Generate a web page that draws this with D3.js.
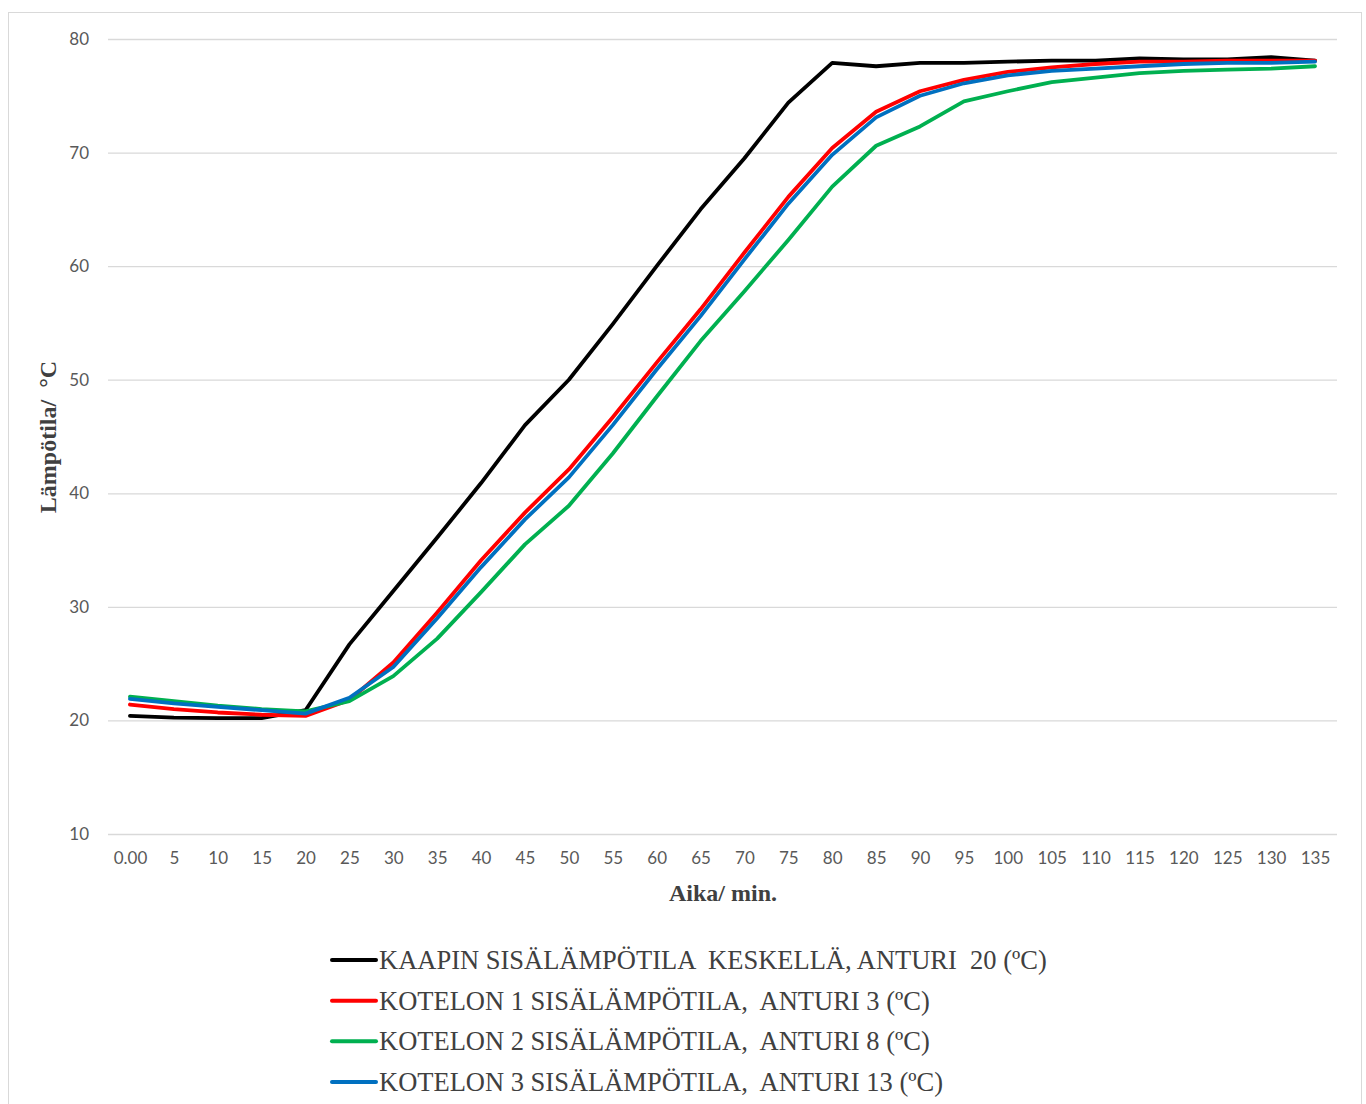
<!DOCTYPE html>
<html>
<head>
<meta charset="utf-8">
<script src="https://cdn.jsdelivr.net/npm/d3@7"></script>
<style>
  html, body { margin: 0; padding: 0; background: #fff; }
  svg { display: block; }
</style>
</head>
<body>
<svg id="chart" width="1366" height="1104"></svg>
<script>
// ---- data ----
const timeLabels = ["0.00","5","10","15","20","25","30","35","40","45","50","55","60","65","70","75","80","85","90","95","100","105","110","115","120","125","130","135"];
const yTicks = [10, 20, 30, 40, 50, 60, 70, 80];

const seriesNames = [
  "KAAPIN SISÄLÄMPÖTILA  KESKELLÄ, ANTURI  20 (ºC)",
  "KOTELON 1 SISÄLÄMPÖTILA,  ANTURI 3 (ºC)",
  "KOTELON 2 SISÄLÄMPÖTILA,  ANTURI 8 (ºC)",
  "KOTELON 3 SISÄLÄMPÖTILA,  ANTURI 13 (ºC)"
];
const seriesColors = ["#000000", "#ff0000", "#00b050", "#0070c0"];

const kaappi  = [20.4,20.25,20.2,20.2,20.9,26.7,31.4,36.1,40.9,46.0,50.0,54.9,60.0,65.0,69.5,74.4,77.9,77.6,77.9,77.9,78.0,78.1,78.1,78.3,78.2,78.2,78.4,78.1];
const kotelo1 = [21.4,21.0,20.7,20.5,20.4,21.8,25.1,29.5,34.1,38.3,42.1,46.7,51.5,56.2,61.2,66.1,70.4,73.6,75.4,76.4,77.1,77.5,77.8,78.0,78.0,78.1,78.1,78.1];
const kotelo2 = [22.1,21.7,21.3,21.0,20.8,21.7,23.9,27.2,31.3,35.5,38.9,43.5,48.5,53.4,57.8,62.3,67.0,70.6,72.3,74.5,75.4,76.2,76.6,77.0,77.2,77.3,77.4,77.6];
const kotelo3 = [21.9,21.5,21.2,20.9,20.6,22.0,24.7,29.0,33.5,37.7,41.4,46.0,50.9,55.6,60.6,65.5,69.8,73.1,75.0,76.1,76.8,77.2,77.4,77.6,77.8,77.9,77.9,78.0];

const seriesValues = [kaappi, kotelo1, kotelo2, kotelo3];
const drawOrder = [0, 1, 2, 3];

// ---- layout ----
const svg = d3.select("#chart");
const plot = { left: 108, right: 1337, top: 39, bottom: 834 };

svg.append("rect")
  .attr("x", 8.5).attr("y", 12.5)
  .attr("width", 1353).attr("height", 1110)
  .attr("fill", "#fff").attr("stroke", "#d9d9d9").attr("stroke-width", 1);

const x = d3.scalePoint().domain(timeLabels).range([plot.left, plot.right]).padding(0.5);
const y = d3.scaleLinear().domain([10, 80]).range([plot.bottom, plot.top]);

// gridlines
const yAxis = d3.axisLeft(y).tickValues(yTicks).tickSize(-(plot.right - plot.left)).tickPadding(19).tickFormat(d3.format("d"));
const gy = svg.append("g").attr("transform", `translate(${plot.left},0)`).call(yAxis);
gy.select(".domain").remove();
gy.selectAll(".tick line").attr("stroke", "#d9d9d9").attr("stroke-width", 1.3);
gy.selectAll(".tick text")
  .attr("fill", "#595959").attr("font-family", "Lato, 'Open Sans', sans-serif").attr("font-size", 17);

const xAxis = d3.axisBottom(x).tickSize(0).tickPadding(18);
const gx = svg.append("g").attr("transform", `translate(0,${plot.bottom})`).call(xAxis);
gx.select(".domain").remove();
gx.selectAll(".tick text")
  .attr("fill", "#595959").attr("font-family", "Lato, 'Open Sans', sans-serif").attr("font-size", 17);

// lines
const line = d3.line().x((d, i) => x(timeLabels[i])).y(d => y(d));
drawOrder.forEach(k => {
  svg.append("path")
    .datum(seriesValues[k])
    .attr("d", line)
    .attr("fill", "none")
    .attr("stroke", seriesColors[k])
    .attr("stroke-width", 3.8)
    .attr("stroke-linejoin", "round")
    .attr("stroke-linecap", "round");
});

// axis titles
svg.append("text")
  .attr("x", 723).attr("y", 901)
  .attr("text-anchor", "middle")
  .attr("font-family", "'Liberation Serif', 'Times New Roman', serif")
  .attr("font-weight", "bold").attr("font-size", 24).attr("fill", "#404040")
  .text("Aika/ min.");

svg.append("text")
  .attr("transform", "translate(56,437) rotate(-90)")
  .attr("text-anchor", "middle")
  .attr("font-family", "'Liberation Serif', 'Times New Roman', serif")
  .attr("font-weight", "bold").attr("font-size", 24).attr("fill", "#404040")
  .style("white-space", "pre")
  .text("Lämpötila/  °C");

// legend
const legendY = d3.scalePoint().domain(d3.range(seriesNames.length)).range([960, 1082]);
const lg = svg.append("g");
seriesNames.forEach((name, k) => {
  const cy = legendY(k);
  lg.append("line")
    .attr("x1", 332).attr("x2", 376).attr("y1", cy).attr("y2", cy)
    .attr("stroke", seriesColors[k]).attr("stroke-width", 4).attr("stroke-linecap", "round");
  lg.append("text")
    .attr("x", 379).attr("y", cy + 9)
    .attr("font-family", "'Liberation Serif', 'Times New Roman', serif")
    .attr("font-size", 26.5).attr("fill", "#404040")
    .style("white-space", "pre")
    .text(name);
});
</script>
</body>
</html>
